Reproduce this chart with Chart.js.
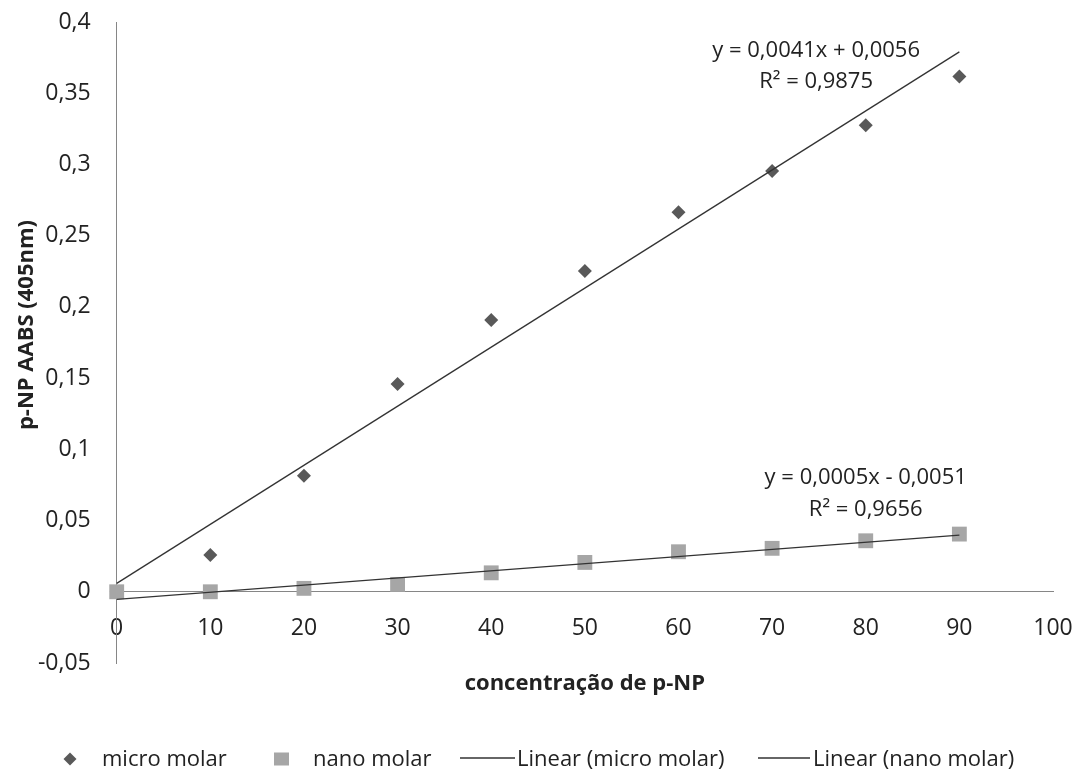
<!DOCTYPE html>
<html>
<head>
<meta charset="utf-8">
<script src="https://cdn.jsdelivr.net/npm/chart.js@4/dist/chart.umd.min.js"></script>
<style>
  html, body { margin: 0; padding: 0; background: #ffffff; }
  #wrap { width: 1081px; height: 772px; position: relative; }
</style>
</head>
<body>
<div id="wrap"><canvas id="c"></canvas></div>
<script>
// ---- data ----
const concentrations = [0, 10, 20, 30, 40, 50, 60, 70, 80, 90];
const microMolar = [0, 0.0258, 0.0815, 0.1458, 0.1908, 0.2252, 0.2664, 0.2954, 0.3275, 0.3617];
const nanoMolar  = [0, 0, 0.0024, 0.0052, 0.0133, 0.0206, 0.0281, 0.0305, 0.0358, 0.0405];
const trendX = [0, 90];
const trendMicro = [0.0059, 0.3790];
const trendNano  = [-0.0053, 0.0398];

const xTickValues = [0, 10, 20, 30, 40, 50, 60, 70, 80, 90, 100];
const xTickLabels = ['0', '10', '20', '30', '40', '50', '60', '70', '80', '90', '100'];
const yTickValues = [-0.05, 0, 0.05, 0.1, 0.15, 0.2, 0.25, 0.3, 0.35, 0.4];
const yTickLabels = ['-0,05', '0', '0,05', '0,1', '0,15', '0,2', '0,25', '0,3', '0,35', '0,4'];

const seriesNames = ['micro molar', 'nano molar', 'Linear (micro molar)', 'Linear (nano molar)'];
const equationMicro = ['y = 0,0041x + 0,0056', 'R² = 0,9875'];
const equationNano  = ['y = 0,0005x - 0,0051', 'R² = 0,9656'];
const xTitle = 'concentração de p-NP';
const yTitle = 'p-NP AABS (405nm)';

// ---- styles ----
const FONT = '"Open Sans", "Noto Sans", sans-serif';
const TEXT = '#222222';
const AXIS = '#868686';
const DARK = '#595959';
const LIGHT = '#a6a6a6';
const TREND = '#333333';

const toPoints = (xs, ys) => xs.map((x, i) => ({ x: x, y: ys[i] }));

function findLabel(values, labels, v) {
  const i = values.findIndex(t => Math.abs(t - v) < 1e-9);
  return i >= 0 ? labels[i] : '';
}

const annotations = {
  id: 'annotations',
  afterDatasetsDraw(chart) {
    const { ctx, scales } = chart;
    const xs = scales.x, ys = scales.y;
    ctx.save();
    ctx.fillStyle = TEXT;
    ctx.textAlign = 'center';
    ctx.textBaseline = 'alphabetic';
    ctx.font = '22px ' + FONT;
    // trendline equations, anchored in data coordinates
    ctx.fillText(equationMicro[0], xs.getPixelForValue(74.7), ys.getPixelForValue(0.3755));
    ctx.fillText(equationMicro[1], xs.getPixelForValue(74.7), ys.getPixelForValue(0.3539));
    ctx.fillText(equationNano[0], xs.getPixelForValue(80.0), ys.getPixelForValue(0.0756));
    ctx.fillText(equationNano[1], xs.getPixelForValue(80.0), ys.getPixelForValue(0.0532));
    ctx.restore();
  },
  afterDraw(chart) {
    const { ctx, chartArea } = chart;
    ctx.save();
    ctx.fillStyle = TEXT;
    // axis titles
    ctx.font = 'bold 22px ' + FONT;
    ctx.textAlign = 'center';
    ctx.textBaseline = 'alphabetic';
    ctx.fillText(xTitle, (chartArea.left + chartArea.right) / 2, chartArea.bottom + 27);
    ctx.save();
    ctx.translate(33, 325);
    ctx.rotate(-Math.PI / 2);
    ctx.fillText(yTitle, 0, 0);
    ctx.restore();

    // legend
    const ly = 759;
    const base = 765.5;
    ctx.font = '22px ' + FONT;
    ctx.textAlign = 'left';
    // diamond
    ctx.fillStyle = DARK;
    ctx.beginPath();
    ctx.moveTo(70 - 6.5, ly); ctx.lineTo(70, ly - 6.5); ctx.lineTo(70 + 6.5, ly); ctx.lineTo(70, ly + 6.5);
    ctx.closePath(); ctx.fill();
    ctx.fillStyle = TEXT;
    ctx.fillText(seriesNames[0], 102, base);
    // square
    ctx.fillStyle = LIGHT;
    ctx.fillRect(274, 752.5, 15, 13);
    ctx.fillStyle = TEXT;
    ctx.fillText(seriesNames[1], 313, base);
    // lines
    ctx.strokeStyle = TREND;
    ctx.lineWidth = 1.3;
    ctx.beginPath(); ctx.moveTo(460, 758); ctx.lineTo(515, 758); ctx.stroke();
    ctx.fillText(seriesNames[2], 517, base);
    ctx.beginPath(); ctx.moveTo(758, 758); ctx.lineTo(810, 758); ctx.stroke();
    ctx.fillText(seriesNames[3], 813, base);
    ctx.restore();
  }
};

new Chart(document.getElementById('c'), {
  type: 'scatter',
  data: {
    datasets: [
      {
        label: seriesNames[2],
        data: toPoints(trendX, trendMicro),
        showLine: true,
        borderColor: TREND,
        borderWidth: 1.3,
        pointRadius: 0,
        pointHoverRadius: 0,
        order: 0,
        clip: false
      },
      {
        label: seriesNames[3],
        data: toPoints(trendX, trendNano),
        showLine: true,
        borderColor: TREND,
        borderWidth: 1.3,
        pointRadius: 0,
        pointHoverRadius: 0,
        order: 0,
        clip: false
      },
      {
        label: seriesNames[1],
        data: toPoints(concentrations, nanoMolar),
        pointStyle: 'rect',
        pointRadius: 10.5,
        pointHoverRadius: 10.5,
        backgroundColor: LIGHT,
        borderColor: LIGHT,
        borderWidth: 0,
        order: 1,
        clip: false
      },
      {
        label: seriesNames[0],
        data: toPoints(concentrations, microMolar),
        pointStyle: 'rectRot',
        pointRadius: 7,
        pointHoverRadius: 7,
        backgroundColor: DARK,
        borderColor: DARK,
        borderWidth: 0,
        order: 2,
        clip: false
      }
    ]
  },
  options: {
    responsive: true,
    maintainAspectRatio: false,
    animation: false,
    events: [],
    layout: { padding: { top: 22, right: 28, bottom: 109, left: 0 } },
    plugins: {
      legend: { display: false },
      tooltip: { enabled: false },
      title: { display: false }
    },
    scales: {
      x: {
        type: 'linear',
        position: { y: 0 },
        min: 0,
        max: 100,
        grid: { display: false, drawTicks: false },
        border: { display: true, color: AXIS, width: 1 },
        afterBuildTicks: s => { s.ticks = xTickValues.map(v => ({ value: v })); },
        afterFit: s => { s.height = 0; s.paddingLeft = 0; s.paddingRight = 0; s.paddingTop = 0; s.paddingBottom = 0; },
        ticks: {
          color: TEXT,
          font: { family: FONT, size: 23 },
          padding: 23,
          maxRotation: 0,
          autoSkip: false,
          callback: v => findLabel(xTickValues, xTickLabels, v)
        }
      },
      y: {
        type: 'linear',
        position: 'left',
        min: -0.05,
        max: 0.4,
        grid: { display: false, drawTicks: false },
        border: { display: true, color: AXIS, width: 1 },
        afterBuildTicks: s => { s.ticks = yTickValues.map(v => ({ value: v })); },
        afterFit: s => { s.width = 116.7; s.paddingTop = 0; s.paddingBottom = 0; s.paddingLeft = 0; s.paddingRight = 0; },
        ticks: {
          color: TEXT,
          font: { family: FONT, size: 23 },
          padding: 26,
          autoSkip: false,
          callback: v => findLabel(yTickValues, yTickLabels, v)
        }
      }
    }
  },
  plugins: [annotations]
});
</script>
</body>
</html>
